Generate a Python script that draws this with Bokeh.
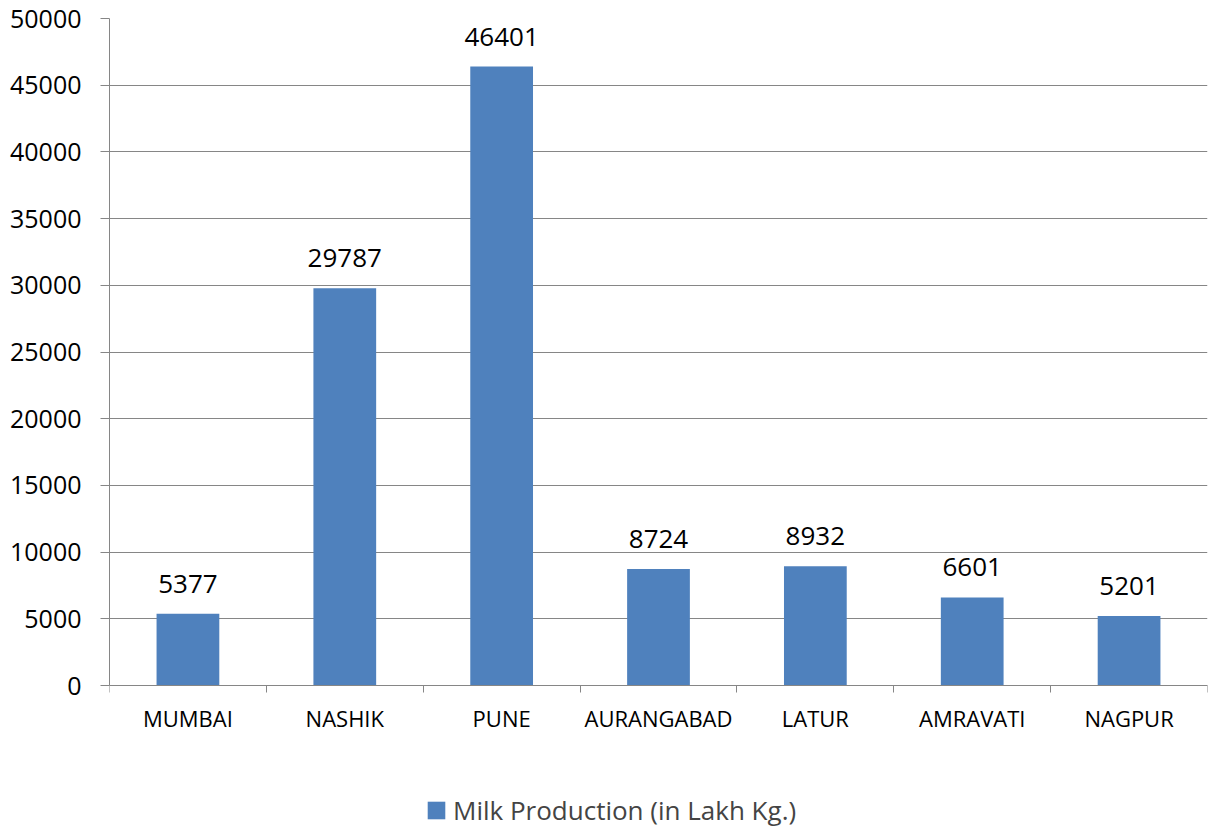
from bokeh.plotting import figure
from bokeh.models import ColumnDataSource, FixedTicker, Range1d, Legend, LegendItem, LabelSet
from bokeh.embed import file_html
from bokeh.resources import INLINE
from bokeh.core.properties import value

districts = ["MUMBAI", "NASHIK", "PUNE", "AURANGABAD", "LATUR", "AMRAVATI", "NAGPUR"]
production = [5377, 29787, 46401, 8724, 8932, 6601, 5201]
y_ticks = [0, 5000, 10000, 15000, 20000, 25000, 30000, 35000, 40000, 45000, 50000]
series_name = "Milk Production (in Lakh Kg.)"

FONT = "Open Sans"
GRID = "#868686"
BAR = "#4F81BD"

W, H = 1215, 829
TOP, LEFT, RIGHT = 18, 109, 8
AXIS_Y = 685  # pixel row of the value 0 in the reference layout
Y_MAX = 50000
# extend the frame down to the page bottom so that the legend sits inside it
y_min = -(H - AXIS_Y) * Y_MAX / (AXIS_Y - TOP)

xs = [i + 0.5 for i in range(len(districts))]
src = ColumnDataSource(dict(x=xs, y=production, lbl=[str(v) for v in production]))

p = figure(width=W, height=H, output_backend="svg", toolbar_location=None,
           x_range=Range1d(0, len(districts)), y_range=Range1d(y_min, Y_MAX),
           min_border_left=LEFT, min_border_right=RIGHT, min_border_top=TOP, min_border_bottom=0)
p.outline_line_color = None
p.xgrid.grid_line_color = None
p.ygrid.grid_line_color = GRID
p.ygrid.grid_line_width = 1
p.ygrid.ticker = FixedTicker(ticks=y_ticks)

r = p.vbar(x="x", top="y", width=0.4, source=src, fill_color=BAR, line_color=None)

labels = LabelSet(x="x", y="y", text="lbl", source=src, text_align="center",
                  text_baseline="bottom", y_offset=21, text_font=value(FONT),
                  text_font_size="26px", text_color="#000000")
p.add_layout(labels)

# x axis: labels at centers, ticks at boundaries, fixed at value 0
p.xaxis.fixed_location = 0
p.xaxis.ticker = FixedTicker(ticks=xs, minor_ticks=list(range(len(districts) + 1)))
p.xaxis.major_label_overrides = {x: d for x, d in zip(xs, districts)}
p.xaxis.major_tick_line_color = None
p.xaxis.major_tick_out = 0
p.xaxis.major_tick_in = 0
p.xaxis.minor_tick_line_color = GRID
p.xaxis.minor_tick_out = 7
p.xaxis.minor_tick_in = 0
p.xaxis.axis_line_color = GRID
p.xaxis.major_label_text_font = FONT
p.xaxis.major_label_text_font_size = "22px"
p.xaxis.major_label_text_color = "#000000"
p.xaxis.major_label_standoff = 10

p.yaxis.ticker = FixedTicker(ticks=y_ticks)
p.yaxis.bounds = (0, Y_MAX)
p.yaxis.minor_tick_line_color = None
p.yaxis.major_tick_line_color = GRID
p.yaxis.major_tick_out = 9
p.yaxis.major_tick_in = 0
p.yaxis.axis_line_color = GRID
p.yaxis.major_label_text_font = FONT
p.yaxis.major_label_text_font_size = "25px"
p.yaxis.major_label_text_color = "#000000"
p.yaxis.major_label_standoff = 19

legend = Legend(items=[LegendItem(label=series_name, renderers=[r])],
                location=(316, 1), orientation="horizontal",
                label_text_font=FONT, label_text_font_size="26px",
                glyph_width=22, glyph_height=22, label_standoff=6,
                padding=0, margin=0, border_line_color=None,
                background_fill_alpha=0)
p.add_layout(legend, "center")

open("out.html", "w").write(file_html(p, INLINE))
